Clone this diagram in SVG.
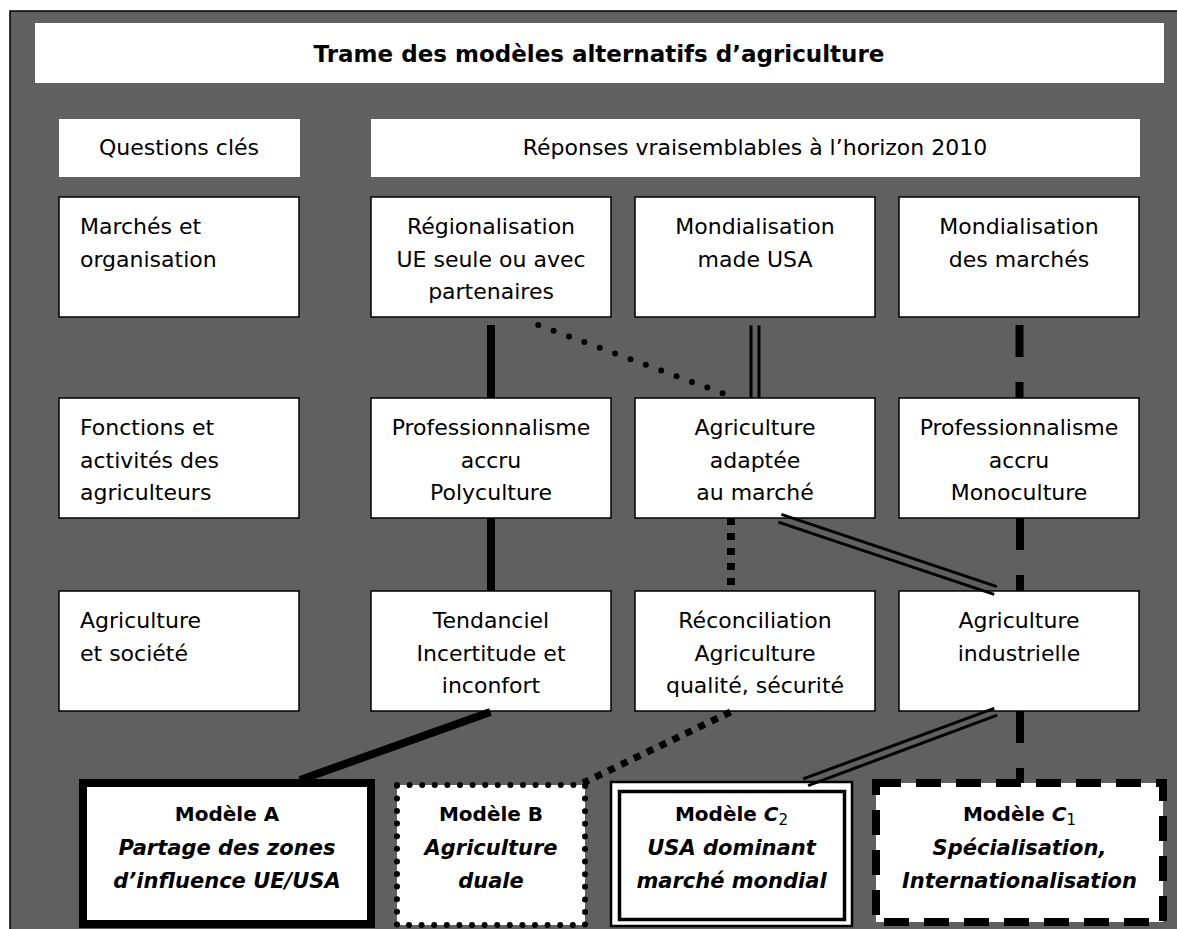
<svg xmlns="http://www.w3.org/2000/svg" width="1177" height="929" viewBox="0 0 1177 929">
<style>
.t{font-family:"DejaVu Sans",sans-serif;font-size:22px;fill:#000}
.c{text-anchor:middle}
.b{font-weight:bold;font-size:23px}
.mh{font-weight:bold;font-size:20px}
.mi{font-weight:bold;font-style:italic;font-size:21px}
.sub{font-weight:normal;font-style:normal;font-size:15px}
.hdr{fill:#fff}
.box{fill:#fff;stroke:#000;stroke-width:1.5}
.solid{stroke:#000;stroke-width:8;fill:none}
.thin{stroke:#000;stroke-width:3;fill:none}
.dots{stroke:#000;stroke-width:6;stroke-linecap:round;stroke-dasharray:0 16.38;fill:none}
.sq{stroke:#000;stroke-width:8;stroke-dasharray:7 8;fill:none}
.sqd{stroke:#000;stroke-width:7;stroke-dasharray:7 7.3;fill:none}
.dash{stroke:#000;stroke-width:8;stroke-dasharray:32 25;fill:none}
</style>
<g id="background">
<rect x="10" y="11" width="1180" height="930" fill="#606060" stroke="#000" stroke-width="1.5"/>
</g>
<g id="title">
<rect class="hdr" x="35" y="23" width="1129" height="60"/>
<text class="t c b" x="599" y="61.5">Trame des modèles alternatifs d’agriculture</text>
</g>
<g id="h-questions">
<rect class="hdr" x="59" y="119" width="241" height="58"/>
<text class="t c" x="179" y="155">Questions clés</text>
</g>
<g id="h-reponses">
<rect class="hdr" x="371" y="119" width="769" height="58"/>
<text class="t c" x="755" y="155">Réponses vraisemblables à l’horizon 2010</text>
</g>
<g id="q-marches">
<rect class="box" x="59" y="197" width="240" height="120"/>
<text class="t" x="80" y="234">Marchés et</text>
<text class="t" x="80" y="266.5">organisation</text>
</g>
<g id="r-regionalisation">
<rect class="box" x="371" y="197" width="240" height="120"/>
<text class="t c" x="491" y="234">Régionalisation</text>
<text class="t c" x="491" y="266.5">UE seule ou avec</text>
<text class="t c" x="491" y="299">partenaires</text>
</g>
<g id="r-mondialisation-usa">
<rect class="box" x="635" y="197" width="240" height="120"/>
<text class="t c" x="755" y="234">Mondialisation</text>
<text class="t c" x="755" y="266.5">made USA</text>
</g>
<g id="r-mondialisation-marches">
<rect class="box" x="899" y="197" width="240" height="120"/>
<text class="t c" x="1019" y="234">Mondialisation</text>
<text class="t c" x="1019" y="266.5">des marchés</text>
</g>
<g id="q-fonctions">
<rect class="box" x="59" y="398" width="240" height="120"/>
<text class="t" x="80" y="435">Fonctions et</text>
<text class="t" x="80" y="467.5">activités des</text>
<text class="t" x="80" y="500">agriculteurs</text>
</g>
<g id="r-polyculture">
<rect class="box" x="371" y="398" width="240" height="120"/>
<text class="t c" x="491" y="435">Professionnalisme</text>
<text class="t c" x="491" y="467.5">accru</text>
<text class="t c" x="491" y="500">Polyculture</text>
</g>
<g id="r-adaptee">
<rect class="box" x="635" y="398" width="240" height="120"/>
<text class="t c" x="755" y="435">Agriculture</text>
<text class="t c" x="755" y="467.5">adaptée</text>
<text class="t c" x="755" y="500">au marché</text>
</g>
<g id="r-monoculture">
<rect class="box" x="899" y="398" width="240" height="120"/>
<text class="t c" x="1019" y="435">Professionnalisme</text>
<text class="t c" x="1019" y="467.5">accru</text>
<text class="t c" x="1019" y="500">Monoculture</text>
</g>
<g id="q-societe">
<rect class="box" x="59" y="591" width="240" height="120"/>
<text class="t" x="80" y="628">Agriculture</text>
<text class="t" x="80" y="660.5">et société</text>
</g>
<g id="r-tendanciel">
<rect class="box" x="371" y="591" width="240" height="120"/>
<text class="t c" x="491" y="628">Tendanciel</text>
<text class="t c" x="491" y="660.5">Incertitude et</text>
<text class="t c" x="491" y="693">inconfort</text>
</g>
<g id="r-reconciliation">
<rect class="box" x="635" y="591" width="240" height="120"/>
<text class="t c" x="755" y="628">Réconciliation</text>
<text class="t c" x="755" y="660.5">Agriculture</text>
<text class="t c" x="755" y="693">qualité, sécurité</text>
</g>
<g id="r-industrielle">
<rect class="box" x="899" y="591" width="240" height="120"/>
<text class="t c" x="1019" y="628">Agriculture</text>
<text class="t c" x="1019" y="660.5">industrielle</text>
</g>
<g id="model-a">
<rect x="83" y="783" width="288" height="141" fill="#fff" stroke="#000" stroke-width="8"/>
<text class="t c mh" x="227" y="821">Modèle A</text>
<text class="t c mi" x="227" y="855">Partage des zones</text>
<text class="t c mi" x="227" y="888">d’influence UE/USA</text>
</g>
<g id="model-b">
<rect x="397" y="785" width="188" height="140" fill="#fff" stroke="#000" stroke-width="6" stroke-linecap="round" stroke-dasharray="0 12.6"/>
<text class="t c mh" x="491" y="821">Modèle B</text>
<text class="t c mi" x="491" y="855">Agriculture</text>
<text class="t c mi" x="491" y="888">duale</text>
</g>
<g id="model-c2">
<rect x="611" y="782" width="241" height="144" fill="#fff" stroke="#000" stroke-width="2.5"/>
<rect x="619.5" y="791.5" width="225" height="128" fill="none" stroke="#000" stroke-width="3.5"/>
<text class="t c mh" x="731.5" y="821">Modèle <tspan font-style="italic">C</tspan><tspan class="sub" dy="4">2</tspan></text>
<text class="t c mi" x="731.5" y="855">USA dominant</text>
<text class="t c mi" x="731.5" y="888">marché mondial</text>
</g>
<g id="model-c1">
<rect x="876" y="783" width="287" height="139" fill="#fff" stroke="#000" stroke-width="8" stroke-dasharray="25 15"/>
<text class="t c mh" x="1019.5" y="821">Modèle <tspan font-style="italic">C</tspan><tspan class="sub" dy="4">1</tspan></text>
<text class="t c mi" x="1019.5" y="855">Spécialisation,</text>
<text class="t c mi" x="1019.5" y="888">Internationalisation</text>
</g>
<g id="connectors">
<line class="solid" x1="491" y1="325" x2="491" y2="398"/>
<line class="dots" x1="538.3" y1="325" x2="722.7" y2="393.3"/>
<line class="thin" x1="751" y1="325.5" x2="751" y2="398"/>
<line class="thin" x1="759" y1="325.5" x2="759" y2="398"/>
<line class="dash" x1="1019.5" y1="325" x2="1019.5" y2="398"/>
<line class="solid" x1="491" y1="518" x2="491" y2="591"/>
<line class="sq" x1="731" y1="518" x2="731" y2="591"/>
<line class="thin" x1="781.4" y1="514.4" x2="996.9" y2="586.6"/>
<line class="thin" x1="778.3" y1="522.1" x2="994.2" y2="594.3"/>
<line class="dash" x1="1020" y1="518" x2="1020" y2="591"/>
<line class="solid" x1="490.4" y1="712" x2="300" y2="780" stroke-width="7"/>
<line class="sqd" x1="730.5" y1="712" x2="583" y2="783"/>
<line class="thin" x1="994.2" y1="708.4" x2="803.1" y2="778.9"/>
<line class="thin" x1="997.2" y1="715.1" x2="808.1" y2="785.6"/>
<line class="dash" x1="1020" y1="711" x2="1020" y2="783"/>
</g>
</svg>
